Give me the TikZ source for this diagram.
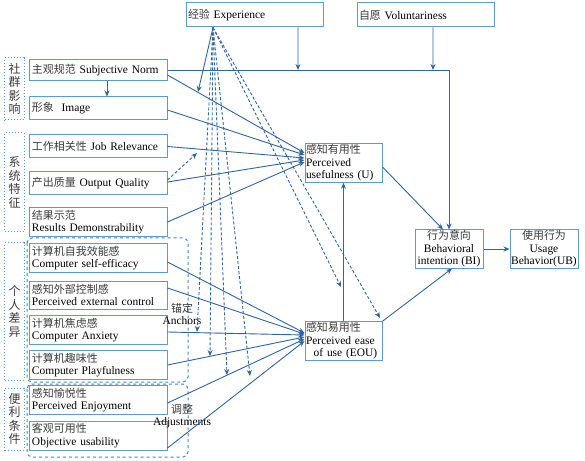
\documentclass[tikz,border=0pt]{standalone}
\usepackage{fontspec}
\setmainfont{Liberation Serif}
\newfontfamily\cjk{Noto Sans CJK SC}
\usetikzlibrary{arrows.meta}
\definecolor{ln}{HTML}{2E64A0}
\definecolor{bd}{HTML}{5B9BD5}
\definecolor{gb}{HTML}{3C85C8}
\definecolor{zt}{HTML}{3A3A3A}
\newcommand\zhc[1]{{\cjk\color{zt}\fontsize{11}{12.5}\selectfont #1}}
\begin{document}
\begin{tikzpicture}[x=1bp,y=-1bp,
  font=\fontsize{11.5}{12.5}\selectfont,
  lbox/.style={draw=bd, line width=1bp, minimum width=137bp, text width=133bp, align=left, inner sep=2bp},
  cbox/.style={draw=bd, line width=1bp, align=center, inner sep=0.5bp},
  grp/.style={draw=bd, dotted, line width=1bp, minimum width=19bp, inner sep=0pt, align=center, font=\cjk\color{zt}\fontsize{12}{13.5}\selectfont},
  arr/.style={draw=ln, line width=0.9bp, -{Stealth[length=6bp,width=5bp]}},
  darr/.style={arr, dashed, dash pattern=on 3bp off 2bp},
  lbl/.style={align=center, inner sep=0pt, font=\fontsize{11.5}{12.5}\selectfont}]
\useasboundingbox (0,0) rectangle (585,461);

% top boxes
\node[lbox, minimum height=24bp] (exp) at (254.5,15) {\zhc{经验} Experience};
\node[lbox, minimum height=24bp] (vol) at (425.5,15) {\zhc{自愿} Voluntariness};

% group label boxes
\node[grp, minimum height=62bp] (g1) at (14.5,89) {社\\群\\影\\响};
\node[grp, minimum height=99bp] (g2) at (14.5,182.5) {系\\统\\特\\征};
\node[grp, minimum height=137bp] (g3) at (14.5,311.5) {个\\人\\差\\异};
\node[grp, minimum height=62bp] (g4) at (14.5,419) {便\\利\\条\\件};

% dashed group frames
\draw[gb, dashed, line width=1bp, rounded corners=5bp] (27,238) rectangle (188,382);
\draw[gb, dashed, line width=1bp, rounded corners=5bp] (27,384) rectangle (188,457);

% left boxes
\node[lbox, minimum height=21bp] (sn) at (98.5,70.5) {\zhc{主观规范} Subjective Norm};
\node[lbox, minimum height=23bp] (img) at (98.5,108.5) {\zhc{形象}\ \ Image};
\node[lbox, minimum height=23bp] (jr) at (98.5,146.5) {\zhc{工作相关性} Job Relevance};
\node[lbox, minimum height=23bp] (oq) at (98.5,183.5) {\zhc{产出质量} Output Quality};
\node[lbox, minimum height=28bp] (rd) at (98.5,222) {\zhc{结果示范}\\Results Demonstrability};
\node[lbox, minimum height=28bp] (cse) at (98.5,258) {\zhc{计算机自我效能感}\\Computer self-efficacy};
\node[lbox, minimum height=28bp] (pec) at (98.5,295) {\zhc{感知外部控制感}\\Perceived external control};
\node[lbox, minimum height=28bp] (ca) at (98.5,330) {\zhc{计算机焦虑感}\\Computer Anxiety};
\node[lbox, minimum height=28bp] (cp) at (98.5,365) {\zhc{计算机趣味性}\\Computer Playfulness};
\node[lbox, minimum height=28bp] (pe) at (98.5,400) {\zhc{感知愉悦性}\\Perceived Enjoyment};
\node[lbox, minimum height=29bp] (ou) at (98.5,435.5) {\zhc{客观可用性}\\Objective usability};

% core boxes
\node[lbox, minimum width=77bp, text width=75bp, inner sep=1bp, minimum height=38bp] (u) at (343.5,163) {\zhc{感知有用性}\\Perceived\\usefulness (U)};
\node[lbox, minimum width=77bp, text width=75bp, inner sep=1bp, minimum height=38bp] (eou) at (343.5,341) {\zhc{感知易用性}\\Perceived ease\\\ \ of use (EOU)};
\node[cbox, minimum width=68bp, minimum height=38bp] (bi) at (449,249) {\zhc{行为意向}\\Behavioral\\intention (BI)};
\node[cbox, minimum width=68bp, minimum height=38bp] (ub) at (544,249) {\zhc{使用行为}\\Usage\\Behavior(UB)};

% labels
\node[lbl] (anc) at (182,314) {\zhc{锚定}\\Anchors};
\node[lbl] (adj) at (182,416) {\zhc{调整}\\Adjustments};

% moderation coordinates
\coordinate (eo) at ([xshift=-41.5bp]exp.south);
\coordinate (j1) at (298,70);
\coordinate (j2) at (433,70);
\coordinate (m0) at (198,92);
\coordinate (m1) at (197,332);
\coordinate (m2) at (210,356);
\coordinate (m3) at (227,375);
\coordinate (m4) at (250,376);
\coordinate (m5) at (341,287);
\coordinate (m6) at (380,318);
\coordinate (mq) at (197,153);

% experience / voluntariness
\draw[arr] ([xshift=43.5bp]exp.south) -- (j1);
\draw[arr] ([xshift=7.5bp]vol.south) -- (j2);
\draw[arr] (sn.east) -- (bi.north |- sn.east) -- (bi.north);
\draw[arr] ([xshift=8.5bp]sn.south) -- ([xshift=8.5bp]img.north);

% to U
\draw[arr] ([yshift=-4.5bp]sn.east) -- ([yshift=10bp]u.west);
\draw[arr] ([yshift=-1.5bp]img.east) -- ([yshift=8bp]u.west);
\draw[arr] (jr.east) -- ([yshift=5bp]u.west);
\draw[arr] ([yshift=1.5bp]oq.east) -- ([yshift=3bp]u.west);
\draw[arr] (rd.east) -- ([yshift=1bp]u.west);

% to EOU
\draw[arr] ([yshift=-4bp]cse.east) -- ([yshift=8bp]eou.west);
\draw[arr] ([yshift=7bp]pec.east) -- ([yshift=7bp]eou.west);
\draw[arr] ([yshift=-2bp]ca.east) -- ([yshift=6bp]eou.west);
\draw[arr] (cp.east) -- ([yshift=4bp]eou.west);
\draw[arr] ([yshift=-3bp]pe.east) -- ([yshift=2bp]eou.west);
\draw[arr] ([yshift=-12.5bp]ou.east) -- ([yshift=0bp]eou.west);

% core paths
\draw[arr] (eou.north) -- (u.south);
\draw[arr] ([yshift=-4bp]u.east) -- ([xshift=-6bp]bi.north);
\draw[arr] (eou.north east) -- ([xshift=3bp]bi.south);
\draw[arr] (bi.east) -- (ub.west);

% moderations from experience
\draw[arr] (eo) -- (m0);
\foreach \m in {m1,m2,m3,m4,m5,m6} \draw[darr] (eo) -- (\m);
\draw[darr] ([yshift=3.5bp]oq.east) -- (mq);
\end{tikzpicture}
\end{document}
